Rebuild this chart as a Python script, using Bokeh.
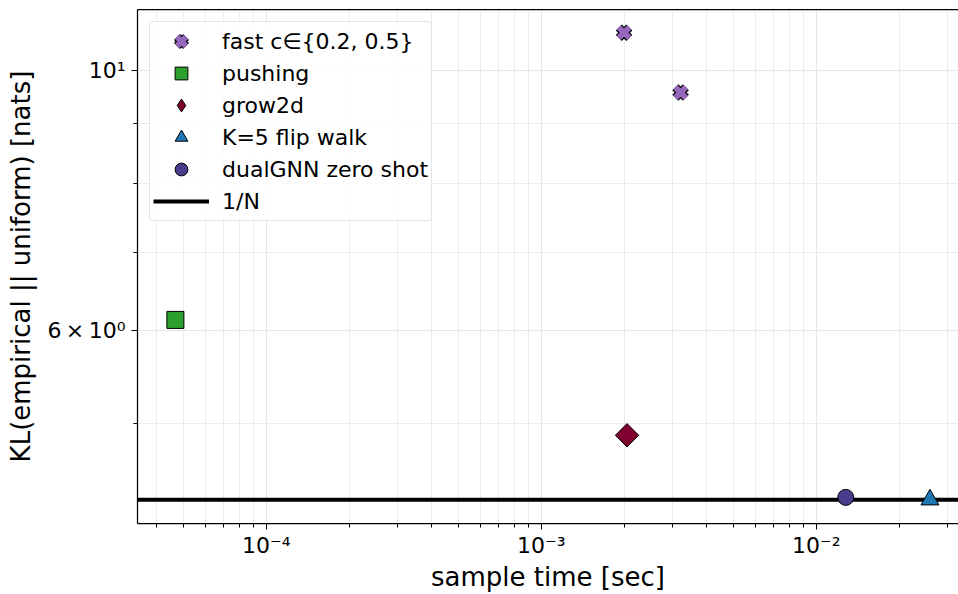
import numpy as np
from bokeh.plotting import figure
from bokeh.models import (Legend, LegendItem, FixedTicker, LogAxis,
                          CustomJSTickFormatter, Range1d)
from bokeh.embed import file_html
from bokeh.resources import INLINE

# ---- data ----
fast_x = [2.0e-3, 3.21e-3]
fast_y = [10.76, 9.57]
push_x = [4.67e-5]
push_y = [6.13]
grow_x = [2.05e-3]
grow_y = [4.89]
flip_x = [2.59e-2]
flip_y = [4.31]
gnn_x = [1.28e-2]
gnn_y = [4.33]
one_over_n = 4.31

labels = ["fast c\u2208{0.2, 0.5}", "pushing", "grow2d", "K=5 flip walk",
          "dualGNN zero shot", "1/N"]

x_start, x_end = 3.40e-5, 0.0329
y_start, y_end = 4.114, 11.26

x_major = [1e-4, 1e-3, 1e-2]
x_major_labels = ["10\u207b\u2074", "10\u207b\u00b3", "10\u207b\u00b2"]
x_minor = [m * 10.0 ** e for e in (-5, -4, -3, -2) for m in range(2, 10)]
y_major = [6.0, 10.0]
y_major_labels = ["6\u2009\u00d7\u200910\u2070", "10\u00b9"]
y_minor = [5.0, 7.0, 8.0, 9.0]

FONT = "DejaVu Sans"

p = figure(width=958, height=594, x_axis_type="log", y_axis_type="log",
           x_range=Range1d(x_start, x_end), y_range=Range1d(y_start, y_end),
           output_backend="svg", toolbar_location=None,
           min_border_left=137, min_border_right=0, min_border_top=9,
           min_border_bottom=70)
p.outline_line_color = None
p.background_fill_color = "white"

js = """
let best = -1, d = 1e9;
for (let i = 0; i < tvals.length; i++) {
  const e = Math.abs(Math.log10(tick) - Math.log10(tvals[i]));
  if (e < d) { d = e; best = i; }
}
return d < 1e-6 ? tlabels[best] : "";
"""

xt = FixedTicker(ticks=x_major, minor_ticks=x_minor)
yt = FixedTicker(ticks=y_major, minor_ticks=y_minor)
p.xaxis.ticker = xt
p.yaxis.ticker = yt
p.xgrid.ticker = xt
p.ygrid.ticker = yt
p.xaxis.formatter = CustomJSTickFormatter(args=dict(tvals=x_major, tlabels=x_major_labels), code=js)
p.yaxis.formatter = CustomJSTickFormatter(args=dict(tvals=y_major, tlabels=y_major_labels), code=js)

for ax in (p.xaxis, p.yaxis):
    ax.axis_line_color = "black"
    ax.axis_line_width = 1.25
    ax.major_tick_line_color = "black"
    ax.minor_tick_line_color = "black"
    ax.major_tick_out = 6
    ax.major_tick_in = 0
    ax.minor_tick_out = 4
    ax.minor_tick_in = 0
    ax.major_label_text_font = FONT
    ax.major_label_text_font_size = "22px"
    ax.major_label_text_color = "black"
    ax.axis_label_text_font = FONT
    ax.axis_label_text_font_size = "26px"
    ax.axis_label_text_font_style = "normal"
    ax.axis_label_text_color = "black"

p.xaxis.axis_label = "sample time [sec]"
p.yaxis.axis_label = "KL(empirical || uniform) [nats]"
p.xaxis.major_label_standoff = 3
p.yaxis.major_label_standoff = 6
p.xaxis.axis_label_standoff = 1
p.yaxis.axis_label_standoff = 8

for g in (p.xgrid, p.ygrid):
    g.grid_line_color = "#e6e6e6"
    g.minor_grid_line_color = "#ececec"
    g.grid_line_width = 1
    g.minor_grid_line_width = 1

top_axis = LogAxis(ticker=FixedTicker(ticks=[]), major_label_text_font_size="0px",
                   major_tick_line_color=None, minor_tick_line_color=None,
                   axis_line_color="black", axis_line_width=1.25,
                   major_label_standoff=0, major_tick_out=0, minor_tick_out=0)
p.add_layout(top_axis, "above")

# 1/N reference line
r_line = p.line(x=[x_start, x_end], y=[one_over_n, one_over_n],
                line_color="black", line_width=4)

r_fast_bg = p.scatter(fast_x, fast_y, marker="x", size=15,
                      line_color="black", line_width=8.5)
r_fast = p.scatter(fast_x, fast_y, marker="x", size=15,
                   line_color="#9467bd", line_width=6)
r_push = p.scatter(push_x, push_y, marker="square", size=17,
                   fill_color="#2ca02c", line_color="black", line_width=1)
# diamond used for the legend entry (fully hidden under the rotated square)
r_grow_leg = p.scatter(grow_x, grow_y, marker="diamond", size=16,
                       fill_color="#800030", line_color="black", line_width=1)
r_grow = p.scatter(grow_x, grow_y, marker="square", angle=np.pi / 4, size=16.5,
                   fill_color="#800030", line_color="black", line_width=1)
r_flip = p.scatter(flip_x, flip_y, marker="triangle", size=18,
                   fill_color="#1f77b4", line_color="black", line_width=1)
r_gnn = p.scatter(gnn_x, gnn_y, marker="circle", size=16,
                  fill_color="#483d8b", line_color="black", line_width=1)

items = [
    LegendItem(label=labels[0], renderers=[r_fast_bg, r_fast]),
    LegendItem(label=labels[1], renderers=[r_push]),
    LegendItem(label=labels[2], renderers=[r_grow_leg]),
    LegendItem(label=labels[3], renderers=[r_flip]),
    LegendItem(label=labels[4], renderers=[r_gnn]),
    LegendItem(label=labels[5], renderers=[r_line]),
]
legend = Legend(items=items, location="top_left", margin=12, padding=3,
                spacing=0, glyph_height=32, glyph_width=56, label_height=22,
                label_standoff=13, label_text_font=FONT,
                label_text_font_size="22px", label_text_color="black",
                border_line_color="#cccccc", border_line_width=1,
                border_radius=4, background_fill_color="white",
                background_fill_alpha=0.8)
p.add_layout(legend)

open("out.html", "w").write(file_html(p, INLINE))
